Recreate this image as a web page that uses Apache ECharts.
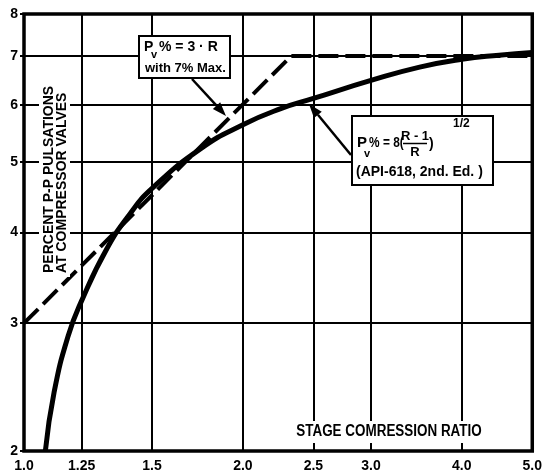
<!DOCTYPE html>
<html><head><meta charset="utf-8">
<script src="https://cdn.jsdelivr.net/npm/echarts@6.0.0/dist/echarts.min.js"></script>
<style>html,body{margin:0;padding:0;background:#fff;}#chart{width:545px;height:473px;}</style>
</head><body><div id="chart"></div>
<script>
// ---- data ----
const xTickValues = [1.0, 1.2, 1.5, 2.0, 2.5, 3.0, 4.0, 5.0];
const xTickLabels = ['1.0', '1.25', '1.5', '2.0', '2.5', '3.0', '4.0', '5.0'];
const yTickValues = [2, 3, 4, 5, 6, 7, 8];
const apiRatio = [1.07, 1.1, 1.15, 1.2, 1.3, 1.4, 1.5, 1.75, 2.0, 2.25, 2.5, 3.0, 3.5, 4.0, 4.5, 5.0];
const apiPct   = [2.0, 2.41, 2.88, 3.22, 3.8, 4.25, 4.6, 5.22, 5.63, 5.92, 6.12, 6.48, 6.76, 6.93, 7.02, 7.08];
const limitRatio = [1.0, 2.33, 5.0];
const limitPct   = [3.0, 7.0, 7.0];

const FONT = "'Liberation Sans', Arial, sans-serif";
const chart = echarts.init(document.getElementById('chart'), null, {renderer: 'canvas'});

function arrow(x1, y1, x2, y2) {
  const dx = x2 - x1, dy = y2 - y1, L = Math.hypot(dx, dy);
  const ux = dx / L, uy = dy / L, hl = 14, hw = 5;
  const bx = x2 - ux * hl, by = y2 - uy * hl;
  return [
    {type: 'line', shape: {x1: x1, y1: y1, x2: bx, y2: by}, style: {stroke: '#000', lineWidth: 2.5}, z: 20},
    {type: 'polygon', shape: {points: [[x2, y2], [bx - uy * hw, by + ux * hw], [bx + uy * hw, by - ux * hw]]}, style: {fill: '#000'}, z: 20}
  ];
}
function txt(x, y, s, size, extra) {
  return Object.assign({type: 'text', x: x, y: y, z: 22,
    style: {text: s, font: 'bold ' + size + 'px ' + FONT, fill: '#000', textAlign: 'left', textVerticalAlign: 'middle'}}, extra || {});
}

const graphics = [].concat(
  // y-axis title
  [{type: 'rect', shape: {x: 39, y: 82, width: 31, height: 195}, style: {fill: '#fff'}, z: 15},
   txt(49, 273, 'PERCENT P-P PULSATIONS', 14, {rotation: Math.PI / 2}),
   txt(62, 273, 'AT COMPRESSOR VALVES', 14, {rotation: Math.PI / 2})],
  // x-axis title
  [{type: 'rect', shape: {x: 291, y: 421, width: 196, height: 22}, style: {fill: '#fff'}, z: 15},
   {type: 'text', x: 389, y: 432, scaleX: 0.84, z: 22,
    style: {text: 'STAGE COMRESSION RATIO', font: 'bold 16px ' + FONT, fill: '#000', textAlign: 'center', textVerticalAlign: 'middle'}}],
  // box 1
  [{type: 'rect', shape: {x: 139, y: 36, width: 91, height: 42}, style: {fill: '#fff', stroke: '#000', lineWidth: 2}, z: 18},
   txt(144, 47, 'P', 14), txt(151, 55, 'v', 11), txt(159, 47, '% = 3 · R', 14),
   txt(145, 68, 'with 7% Max.', 13)],
  arrow(192, 79, 226, 116),
  // box 2
  [{type: 'rect', shape: {x: 352, y: 116, width: 141, height: 69}, style: {fill: '#fff', stroke: '#000', lineWidth: 2}, z: 18},
   txt(357, 143, 'P', 15), txt(364, 154, 'v', 11),
   txt(369, 143, '% = 8(', 14, {scaleX: 0.85}),
   {type: 'text', x: 415, y: 136, z: 22, style: {text: 'R - 1', font: 'bold 13px ' + FONT, fill: '#000', textAlign: 'center', textVerticalAlign: 'middle'}},
   {type: 'line', shape: {x1: 403, y1: 143.5, x2: 427, y2: 143.5}, style: {stroke: '#000', lineWidth: 1.5}, z: 22},
   {type: 'text', x: 415, y: 152, z: 22, style: {text: 'R', font: 'bold 13px ' + FONT, fill: '#000', textAlign: 'center', textVerticalAlign: 'middle'}},
   txt(429, 144, ')', 14),
   txt(453, 124, '1/2', 12),
   txt(356, 172, '(API-618, 2nd. Ed. )', 14)],
  arrow(351, 155, 309, 104)
);

chart.setOption({
  animation: false,
  backgroundColor: '#fff',
  grid: {left: 24, right: 10, top: 14, bottom: 22, show: true, borderColor: '#000', borderWidth: 3.5, backgroundColor: 'transparent'},
  xAxis: {
    type: 'log', logBase: 10, min: 1, max: 5,
    axisLine: {show: false},
    axisTick: {show: false, customValues: xTickValues},
    axisLabel: {customValues: xTickValues, color: '#000', fontSize: 14, fontWeight: 'bold', fontFamily: FONT, margin: 8,
      formatter: function (v) { const i = xTickValues.findIndex(t => Math.abs(t - v) < 1e-6); return i >= 0 ? xTickLabels[i] : ''; }},
    splitLine: {show: true, lineStyle: {color: '#000', width: 2}},
    minorTick: {show: false}, minorSplitLine: {show: false}
  },
  yAxis: {
    type: 'log', logBase: 10, min: 2, max: 8,
    axisLine: {show: false},
    axisTick: {show: true, customValues: yTickValues, length: 4, lineStyle: {color: '#000', width: 2}},
    axisLabel: {customValues: yTickValues, color: '#000', fontSize: 14, fontWeight: 'bold', fontFamily: FONT, margin: 6,
      formatter: function (v) { return String(Math.round(v)); }},
    splitLine: {show: true, lineStyle: {color: '#000', width: 2}},
    minorTick: {show: false}, minorSplitLine: {show: false}
  },
  series: [
    {type: 'line', data: apiRatio.map((r, i) => [r, apiPct[i]]), smooth: true, symbol: 'none',
     lineStyle: {color: '#000', width: 5}, z: 5},
    {type: 'line', data: limitRatio.map((r, i) => [r, limitPct[i]]), symbol: 'none',
     lineStyle: {color: '#000', width: 4, type: [20, 7]}, z: 5}
  ],
  graphic: graphics
});
</script></body></html>
